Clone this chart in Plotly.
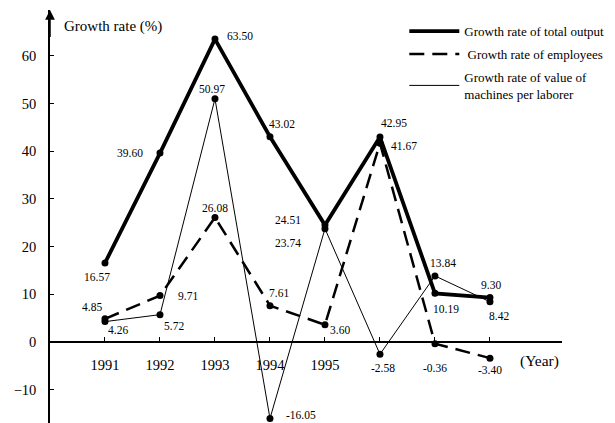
import plotly.graph_objects as go

years = [1991, 1992, 1993, 1994, 1995, 1996, 1997, 1998]
year_labels = ["1991", "1992", "1993", "1994", "1995", "", "", ""]
total_output = [16.57, 39.60, 63.50, 43.02, 24.51, 42.95, 10.19, 9.30]
employees = [4.85, 9.71, 26.08, 7.61, 3.60, 41.67, -0.36, -3.40]
machines = [4.26, 5.72, 50.97, -16.05, 23.74, -2.58, 13.84, 8.42]
y_ticks = [-10, 0, 10, 20, 30, 40, 50, 60]
names = ["Growth rate of total output", " Growth rate of employees",
         "Growth rate of value of<br>machines per laborer"]

# label offsets in px (dx, dy) -- style only
off_total = [(-8, -14), (-30, 0), (25, 3), (12, 13), (-37, 5), (14, 14), (11, -16), (1, 13)]
off_emp = [(-13, 12), (28, 0), (0, 10), (9, 13), (15, -5), (24, -3), (0, -24), (0, -12)]
off_mach = [(13, -8), (14, -11), (-3, 10), (31, 3), (-37, -14), (3, -14), (8, 13), (9, -14)]

YMIN, YMAX = -17.0, 69.6
FONT = "Liberation Serif"
styles = [dict(color="black", width=3.8),
          dict(color="black", width=2.5, dash="15px,8px"),
          dict(color="black", width=1)]

fig = go.Figure()
for i, (series, name, st) in enumerate(zip((total_output, employees, machines), names, styles)):
    fig.add_trace(go.Scatter(x=years, y=series, mode="lines+markers", name=name,
                             line=st, marker=dict(color="black", size=7),
                             showlegend=False))
    fig.add_trace(go.Scatter(x=[None], y=[None], mode="lines", name=name, line=st,
                             legendgroup=f"g{i}"))

for series, offs in ((total_output, off_total), (employees, off_emp), (machines, off_mach)):
    for xv, yv, (dx, dy) in zip(years, series, offs):
        fig.add_annotation(x=xv, y=yv, xref="x", yref="y", text=f"{yv:.2f}",
                           showarrow=False, xshift=dx, yshift=dy,
                           font=dict(family=FONT, size=11.5, color="black"))

# y-axis arrow
fig.add_annotation(x=1990, y=YMAX, xref="x", yref="y", ax=1990, ay=YMAX - 6,
                   axref="x", ayref="y", showarrow=True, arrowhead=2,
                   arrowsize=1.3, arrowwidth=1.5, arrowcolor="black", text="")
fig.add_annotation(x=1990, y=YMAX, xref="x", yref="y", text="Growth rate (%)",
                   showarrow=False, xanchor="left", yanchor="top", xshift=12, yshift=-6,
                   font=dict(family=FONT, size=15, color="black"))
fig.add_annotation(x=1998.9, y=0, xref="x", yref="y", text="(Year)",
                   showarrow=False, yshift=-19,
                   font=dict(family=FONT, size=15.5, color="black"))

fig.update_layout(
    width=615, height=423,
    margin=dict(l=42, r=61, t=2, b=8),
    paper_bgcolor="white", plot_bgcolor="white",
    font=dict(family=FONT, color="black"),
    showlegend=True,
    legend=dict(x=0.692, y=0.985, xanchor="left", yanchor="top",
                bgcolor="rgba(0,0,0,0)", font=dict(family=FONT, size=13, color="black"),
                itemwidth=50, tracegroupgap=3),
    xaxis=dict(range=[1990, 1999.31], tickvals=years, ticktext=year_labels,
               showgrid=False, zeroline=False, showline=True, linecolor="black", linewidth=1.5,
               anchor="free", position=(0 - YMIN) / (YMAX - YMIN),
               ticks="inside", ticklen=4, tickcolor="black",
               ticklabelstandoff=10,
               tickfont=dict(family=FONT, size=14.5, color="black")),
    yaxis=dict(range=[YMIN, YMAX], tickvals=y_ticks,
               showgrid=False, zeroline=False, showline=True, linecolor="black", linewidth=1.5,
               ticks="inside", ticklen=4, tickcolor="black", ticklabelstandoff=9,
               tickfont=dict(family=FONT, size=14.5, color="black")),
)

fig.write_html("out.html")
